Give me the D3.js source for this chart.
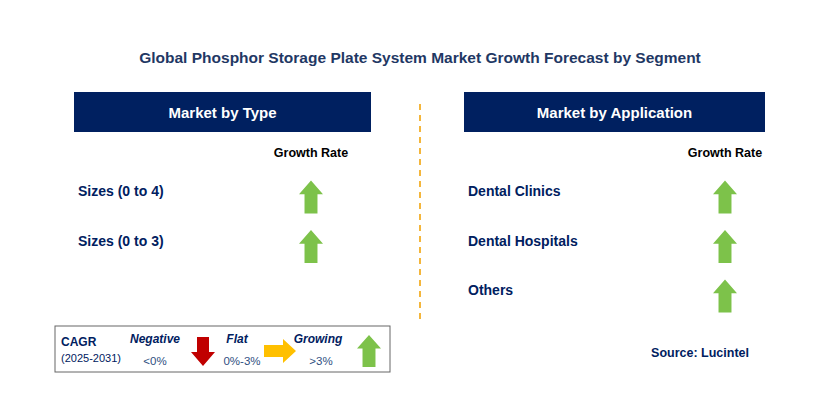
<!DOCTYPE html><html><head><meta charset="utf-8"><script src="https://d3js.org/d3.v7.min.js"></script>
<style>body{margin:0;background:#fff}text{font-family:Arial,"Liberation Sans",sans-serif}</style></head><body>
<svg id="c" width="829" height="420"></svg>
<script>
const title="Global Phosphor Storage Plate System Market Growth Forecast by Segment";
const typeCategories=["Sizes (0 to 4)","Sizes (0 to 3)"];
const typeGrowth=["up","up"];
const appCategories=["Dental Clinics","Dental Hospitals","Others"];
const appGrowth=["up","up","up"];
const navy="#002060", green="#7dc24a", red="#c00000", amber="#ffc000";
const svg=d3.select("#c");
svg.append("text").attr("x",420).attr("y",63).attr("text-anchor","middle").attr("font-size",15.5).attr("font-weight","bold").attr("fill","#1f3864").text(title);
svg.append("line").attr("x1",420).attr("x2",420).attr("y1",104).attr("y2",320).attr("stroke","#f4b63c").attr("stroke-width",2).attr("stroke-dasharray","6,5");
function upArrow(g,cx,cy,w,h,col){const hw=w/2,sw=w*0.27,hh=h*0.42;
 g.append("path").attr("d",`M${cx},${cy-h/2}L${cx+hw},${cy-h/2+hh}L${cx+sw},${cy-h/2+hh}L${cx+sw},${cy+h/2}L${cx-sw},${cy+h/2}L${cx-sw},${cy-h/2+hh}L${cx-hw},${cy-h/2+hh}Z`).attr("fill",col);}
function panel(x0,x1,head,cats,growth,arrowX){
 svg.append("rect").attr("x",x0).attr("y",92).attr("width",x1-x0).attr("height",40).attr("fill",navy);
 svg.append("text").attr("x",(x0+x1)/2).attr("y",118).attr("text-anchor","middle").attr("fill","#fff").attr("font-weight","bold").attr("font-size",15).text(head);
 svg.append("text").attr("x",arrowX).attr("y",157).attr("text-anchor","middle").attr("font-weight","bold").attr("font-size",12.5).attr("fill","#000").text("Growth Rate");
 const y=d3.scalePoint().domain(cats).range([191,191+49.5*(cats.length-1)]);
 cats.forEach((c,i)=>{
  svg.append("text").attr("x",x0+4).attr("y",y(c)+5).attr("font-weight","bold").attr("font-size",14).attr("fill",navy).text(c);
  if(growth[i]==="up") upArrow(svg,arrowX,y(c)+6,24,33,green);
 });
}
panel(74,371,"Market by Type",typeCategories,typeGrowth,311);
panel(464,765,"Market by Application",appCategories,appGrowth,725);
// legend
const L=svg.append("g");
L.append("rect").attr("x",55).attr("y",326).attr("width",335).attr("height",46).attr("fill","#fff").attr("stroke","#666").attr("stroke-width",1);
L.append("text").attr("x",61).attr("y",346).attr("font-weight","bold").attr("font-size",12).attr("fill",navy).text("CAGR");
L.append("text").attr("x",61).attr("y",362).attr("font-size",11).attr("fill",navy).text("(2025-2031)");
[["Negative",155,"<0%",155],["Flat",237,"0%-3%",242],["Growing",318,">3%",321]].forEach(d=>{
 L.append("text").attr("x",d[1]).attr("y",343).attr("text-anchor","middle").attr("font-weight","bold").attr("font-style","italic").attr("font-size",12).attr("fill",navy).text(d[0]);
 L.append("text").attr("x",d[3]).attr("y",365).attr("text-anchor","middle").attr("font-size",11.5).attr("fill","#2f4f7f").text(d[2]);
});
L.append("path").attr("d","M197,337L209,337L209,352L215,352L203,366L191,352L197,352Z").attr("fill",red);
L.append("path").attr("d","M264,345L283,345L283,339L296,351L283,363L283,357L264,357Z").attr("fill",amber);
upArrow(L,369,351,24,32,green);
svg.append("text").attr("x",749).attr("y",357).attr("text-anchor","end").attr("font-weight","bold").attr("font-size",12.5).attr("fill",navy).text("Source: Lucintel");
</script></body></html>
